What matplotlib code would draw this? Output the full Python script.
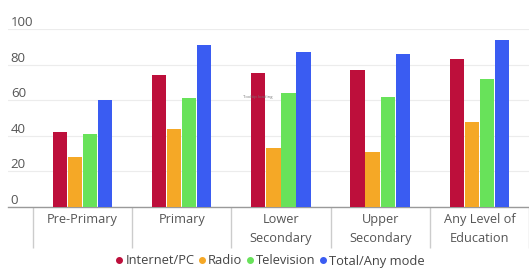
import matplotlib
matplotlib.use("Agg")
import matplotlib.pyplot as plt
import numpy as np
from matplotlib.lines import Line2D

plt.rcParams['font.family'] = ['Open Sans', 'DejaVu Sans']

categories = ["Pre-Primary", "Primary", "Lower\nSecondary", "Upper\nSecondary", "Any Level of\nEducation"]
series_names = ["Internet/PC", "Radio", "Television", "Total/Any mode"]
internet = [42, 74, 75, 77, 83]
radio = [28, 44, 33, 31, 48]
television = [41, 61, 64, 62, 72]
total = [60, 91, 87, 86, 94]
y_ticks = [0, 20, 40, 60, 80, 100]
colors = ["#BD0F3B", "#F5A826", "#68E25A", "#3A5CF2"]

series = [internet, radio, television, total]

fig = plt.figure(figsize=(5.29, 2.68), dpi=100)
W, H = 529, 268
left_px, right_px = 8, 529
bottom_px, top_px = 207, 29
ax = fig.add_axes([left_px / W, (H - bottom_px) / H, (right_px - left_px) / W, (bottom_px - top_px) / H])

x = np.arange(len(categories))
slot = 0.152
for i, (vals, c, name) in enumerate(zip(series, colors, series_names)):
    ax.bar(x + (i - 1.5) * slot, vals, width=slot - 0.008, color=c, label=name, zorder=3)

ax.set_xlim(-0.75, 4.46)
ax.set_ylim(0, 100)

for s in ["top", "right", "left"]:
    ax.spines[s].set_visible(False)
ax.spines["bottom"].set_color("#9a9a9a")
ax.spines["bottom"].set_linewidth(1.0)

ax.set_yticks(y_ticks)
ax.yaxis.grid(True, color="#ececec", linewidth=0.8, zorder=0)
ax.tick_params(axis="y", length=0, pad=-2, labelsize=9.5, labelcolor="#555555")
for lab in ax.get_yticklabels():
    lab.set_horizontalalignment("left")
    lab.set_verticalalignment("bottom")

ax.set_xticks(x)
ax.set_xticklabels(categories, fontsize=9.2, color="#555555", linespacing=1.6)
ax.tick_params(axis="x", which="major", length=0, pad=4.5)
ax.set_xticks(np.arange(len(categories) + 1) - 0.5, minor=True)
ax.tick_params(axis="x", which="minor", length=29.5, color="#cccccc", width=1)

ax.text(2.0 - 0.38, 61, "Tooltip loading", fontsize=3.1, color="#777777", zorder=5)

handles = [Line2D([0], [0], marker="o", linestyle="", markersize=4, markerfacecolor=c,
                  markeredgecolor=c) for c in colors]
fig.legend(handles, series_names, loc="center", bbox_to_anchor=(269 / W, (H - 261) / H),
           ncol=4, frameon=False, fontsize=9.3, labelcolor="#444444",
           handletextpad=0.0, columnspacing=0.15, handlelength=0.9,
           borderpad=0, borderaxespad=0)

fig.savefig("out.png", dpi=100)
